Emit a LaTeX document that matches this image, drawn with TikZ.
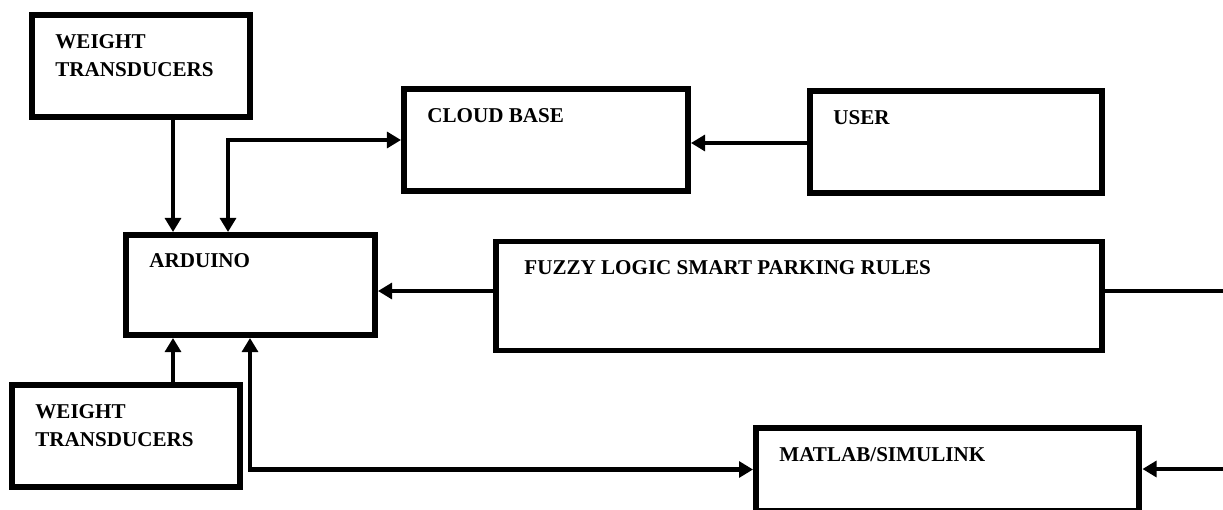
\documentclass[tikz,border=0pt]{standalone}
\usepackage{fontspec}
\setmainfont{Liberation Serif}
\usetikzlibrary{arrows.meta,positioning}

\begin{document}
\begin{tikzpicture}[
  x=0.02cm, y=-0.02cm,
  blk/.style={draw, line width=3.4pt, inner sep=0pt},
  txt/.style={anchor=north west, inner sep=0pt, align=left, font=\fontsize{12}{15.9}\selectfont\bfseries},
  arr/.style={line width=2.8pt, -{Triangle[length=8pt, width=9pt]}},
  dbl/.style={line width=2.8pt, {Triangle[length=8pt, width=9pt]}-{Triangle[length=8pt, width=9pt]}},
  wire/.style={line width=2.8pt}
]
\useasboundingbox (0,0) rectangle (1223,510);

% Blocks
\node[blk, minimum width=4.36cm, minimum height=2.04cm] (wtA) at (141,66) {};
\node[blk, minimum width=5.68cm, minimum height=2.04cm] (cloud) at (546,140) {};
\node[blk, minimum width=5.84cm, minimum height=2.05cm] (user) at (956,142) {};
\node[blk, minimum width=4.98cm, minimum height=2.00cm] (ard) at (250.5,285) {};
\node[blk, minimum width=12.12cm, minimum height=2.18cm] (fuzzy) at (799,296) {};
\node[blk, minimum width=4.56cm, minimum height=2.04cm] (wtB) at (126,436) {};
\node[blk, minimum width=7.67cm, minimum height=1.66cm] (matlab) at (947.75,469.5) {};

% Texts (top left of each block)
\node[txt] (wtA-t) at ([shift={(26,22)}]wtA.north west) {WEIGHT\\TRANSDUCERS};
\node[txt] (cloud-t) at ([shift={(26,22)}]cloud.north west) {CLOUD BASE};
\node[txt] (user-t) at ([shift={(26,22)}]user.north west) {USER};
\node[txt] (ard-t) at ([shift={(26,21)}]ard.north west) {ARDUINO};
\node[txt] (fuzzy-t) at ([shift={(31,22)}]fuzzy.north west) {FUZZY LOGIC SMART PARKING RULES};
\node[txt] (wtB-t) at ([shift={(26,22)}]wtB.north west) {WEIGHT\\TRANSDUCERS};
\node[txt] (matlab-t) at ([shift={(26,22)}]matlab.north west) {MATLAB/SIMULINK};

% Connector positions
\coordinate (xa) at (173,0);
\coordinate (xb) at (228,0);
\coordinate (xc) at (250,0);
\coordinate (yf) at (0,291);
\coordinate (fout) at (1223,291);
\coordinate (min) at (1223,469);

% Arrows
\draw[arr] (wtA.south -| xa) -- (ard.north -| xa);
\draw[dbl] (ard.north -| xb) |- (cloud.west);
\draw[arr] (user.west |- 0,143) -- (cloud.east |- 0,143);
\draw[arr] (fuzzy.west |- yf) -- (ard.east |- yf);
\draw[wire] (fuzzy.east |- fout) -- (fout);
\draw[arr] (wtB.north -| xa) -- (ard.south -| xa);
\draw[dbl] (ard.south -| xc) |- (matlab.west);
\draw[arr] (min) -- (matlab.east |- min);
\end{tikzpicture}
\end{document}
